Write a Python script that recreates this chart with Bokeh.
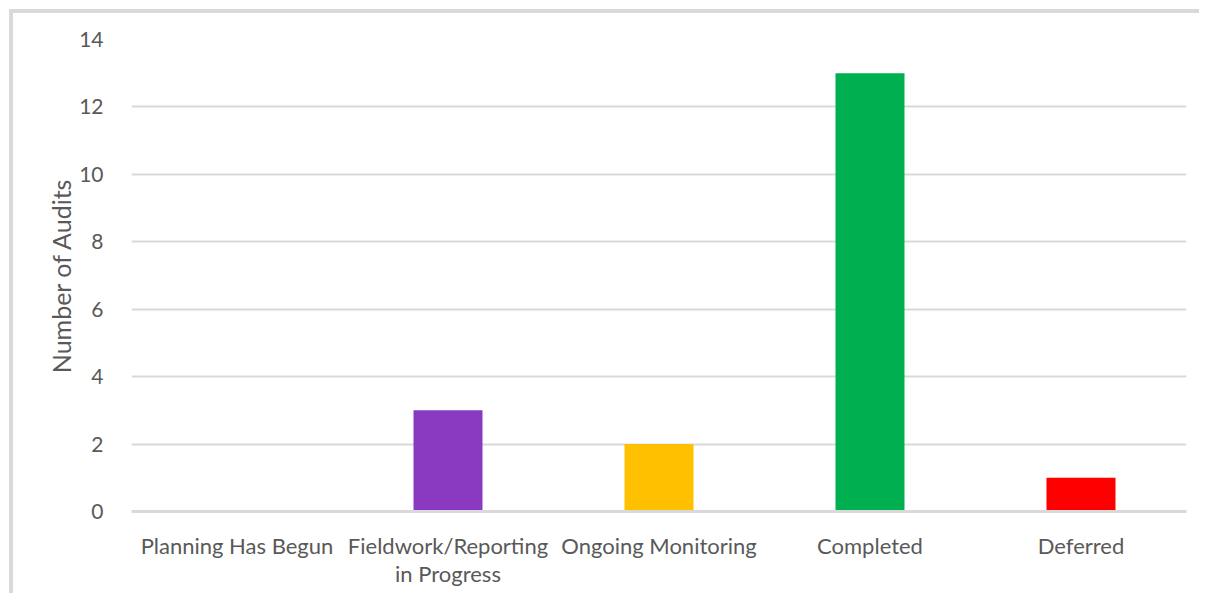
from bokeh.plotting import figure
from bokeh.models import Range1d, FixedTicker, FactorRange, CategoricalAxis
from bokeh.embed import file_html
from bokeh.resources import INLINE

# category names, split over the two lines of the axis labels
categories = ["Planning Has Begun", "Fieldwork/Reporting",
              "Ongoing Monitoring", "Completed", "Deferred"]
categories_line2 = ["", "in Progress", "", "", ""]
values = [0, 3, 2, 13, 1]
colors = ["#4472C4", "#8A3AC1", "#FFC000", "#00B050", "#FF0000"]
y_ticks = [0, 2, 4, 6, 8, 10, 12, 14]

FONT = "Lato"
TXT = "#595959"
GRID = "#D9D9D9"

p = figure(x_range=categories, y_range=Range1d(0, 14),
           width=1190, height=584, output_backend="svg",
           toolbar_location=None,
           min_border_left=118, min_border_right=17,
           min_border_top=26, min_border_bottom=86)
p.styles = {"margin-left": "9px", "margin-top": "9px",
            "border-left": "4px solid #D9D9D9", "border-top": "4px solid #D9D9D9"}

p.vbar(x=categories, top=values, width=0.327, color=colors, line_color=None)

p.outline_line_color = None
p.background_fill_color = "white"
p.border_fill_color = "white"

p.xgrid.grid_line_color = None
p.ygrid.grid_line_color = GRID
p.ygrid.grid_line_width = 2
p.ygrid.ticker = FixedTicker(ticks=y_ticks)

p.yaxis.ticker = FixedTicker(ticks=y_ticks)
p.yaxis.axis_line_color = None
p.yaxis.major_tick_line_color = None
p.yaxis.minor_tick_line_color = None
p.yaxis.major_label_text_font = FONT
p.yaxis.major_label_text_font_size = "21px"
p.yaxis.major_label_text_color = TXT
p.yaxis.major_label_standoff = 22
p.yaxis.axis_label = "Number of Audits"
p.yaxis.axis_label_text_font = FONT
p.yaxis.axis_label_text_font_size = "25px"
p.yaxis.axis_label_text_font_style = "normal"
p.yaxis.axis_label_text_color = TXT
p.yaxis.axis_label_standoff = 0

p.xaxis.axis_line_color = GRID
p.xaxis.axis_line_width = 3
p.xaxis.major_tick_line_color = None
p.xaxis.minor_tick_line_color = None
p.xaxis.major_label_text_font = FONT
p.xaxis.major_label_text_font_size = "22px"
p.xaxis.major_label_text_color = TXT
p.xaxis.major_label_standoff = 14

# second line of the wrapped category labels
line2_factors = [s if s else " " * (i + 1) for i, s in enumerate(categories_line2)]
p.extra_x_ranges = {"line2": FactorRange(factors=line2_factors)}
ax2 = CategoricalAxis(x_range_name="line2")
ax2.axis_line_color = None
ax2.major_tick_line_color = None
ax2.minor_tick_line_color = None
ax2.major_label_text_font = FONT
ax2.major_label_text_font_size = "22px"
ax2.major_label_text_color = TXT
ax2.major_label_standoff = -8
p.add_layout(ax2, "below")

open("out.html", "w").write(file_html(p, INLINE))
